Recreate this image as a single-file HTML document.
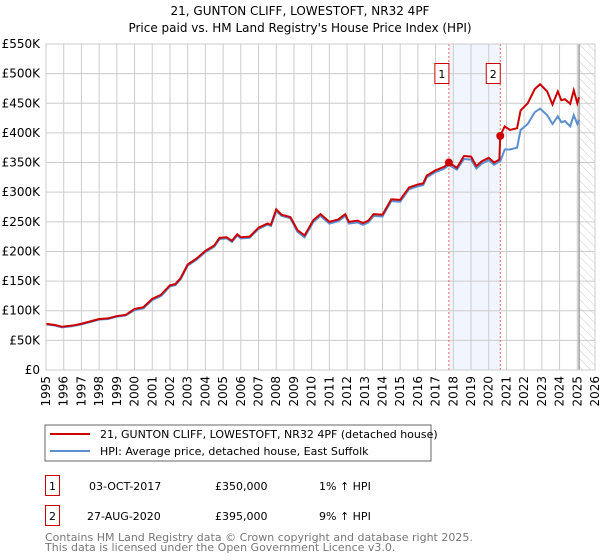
<!DOCTYPE html>
<html><head><meta charset="utf-8"><style>
body{margin:0;background:#fff;width:600px;height:560px;overflow:hidden}
svg{display:block;font-family:"DejaVu Sans","Liberation Sans",sans-serif}
</style></head><body>
<svg id="c" width="600" height="560">
<defs><pattern id="hatch" width="6" height="6" patternUnits="userSpaceOnUse" patternTransform="rotate(-45)"><line x1="0" y1="0" x2="0" y2="6" stroke="#ccc" stroke-width="1"/></pattern></defs>
<text x="300" y="15" text-anchor="middle" font-size="12">21, GUNTON CLIFF, LOWESTOFT, NR32 4PF</text>
<text x="300" y="32" text-anchor="middle" font-size="12">Price paid vs. HM Land Registry's House Price Index (HPI)</text>
<g id="grid"></g><g id="marks"></g><g id="axes"></g>
<rect x="45" y="425" width="386" height="36" fill="#fff" stroke="#666"/>
<line x1="50" y1="434" x2="90" y2="434" stroke="#cc0000" stroke-width="2"/>
<text x="100" y="438" font-size="11">21, GUNTON CLIFF, LOWESTOFT, NR32 4PF (detached house)</text>
<line x1="50" y1="451" x2="90" y2="451" stroke="#5b8fd0" stroke-width="2"/>
<text x="100" y="455" font-size="11">HPI: Average price, detached house, East Suffolk</text>
<g font-size="11">
<rect x="45.5" y="475.5" width="14" height="20" fill="#fff" stroke="#cc0000"/>
<text x="52.5" y="490" text-anchor="middle">1</text>
<text x="89" y="490">03-OCT-2017</text><text x="215" y="490">£350,000</text><text x="319" y="490">1% ↑ HPI</text>
<rect x="45.5" y="505.5" width="14" height="20" fill="#fff" stroke="#cc0000"/>
<text x="52.5" y="520" text-anchor="middle">2</text>
<text x="87" y="520">27-AUG-2020</text><text x="215" y="520">£395,000</text><text x="319" y="520">9% ↑ HPI</text>
</g>
<text x="45" y="541" font-size="11" fill="#777">Contains HM Land Registry data © Crown copyright and database right 2025.</text>
<text x="45" y="551" font-size="11" fill="#777">This data is licensed under the Open Government Licence v3.0.</text>
</svg>
<script>
const years=[1995,1996,1997,1998,1999,2000,2001,2002,2003,2004,2005,2006,2007,2008,2009,2010,2011,2012,2013,2014,2015,2016,2017,2018,2019,2020,2021,2022,2023,2024,2025,2026];
const yTicks=[0,50,100,150,200,250,300,350,400,450,500,550];
const propT=[1995,1995.5,1995.9,1996.5,1997,1997.5,1998,1998.5,1999,1999.5,2000,2000.5,2001,2001.5,2002,2002.3,2002.6,2003,2003.5,2004,2004.5,2004.8,2005.2,2005.5,2005.8,2006,2006.5,2007,2007.5,2007.7,2008,2008.3,2008.8,2009.2,2009.6,2010.1,2010.5,2011,2011.5,2011.9,2012.1,2012.6,2012.9,2013.2,2013.5,2014,2014.5,2015,2015.5,2016,2016.3,2016.5,2017,2017.5,2017.75,2018.2,2018.6,2019,2019.3,2019.6,2020,2020.3,2020.6,2020.65,2020.9,2021.2,2021.6,2021.8,2022.2,2022.6,2022.9,2023.3,2023.6,2023.9,2024.1,2024.3,2024.6,2024.8,2025,2025.1];
const propV=[78,76,73,75,78,82,86,87,91,93,103,106,120,127,143,145,155,178,188,201,210,223,224,218,229,224,225,240,247,245,271,262,258,236,227,253,263,250,254,263,250,252,248,252,263,262,288,287,308,313,315,328,337,343,350,341,361,360,344,352,358,350,355,395,411,405,408,438,450,474,482,470,448,470,455,457,449,472,450,460];
const hpiT=propT;
const hpiV=[77,75,72,74,77,81,85,86,90,92,101,104,118,125,141,143,153,176,186,199,208,221,222,216,227,222,223,238,245,243,268,260,256,233,224,250,260,247,251,260,247,249,245,249,260,259,285,284,305,310,312,325,334,340,346,338,356,355,340,348,354,346,352,352,372,372,375,405,415,435,441,430,415,428,418,420,411,430,415,422];
const sales=[[2017.75,350],[2020.65,395]];
const NS='http://www.w3.org/2000/svg';
const X0=46,X1=595,Y0=370,Y1=44;
const xs=t=>X0+(t-1995)/31*(X1-X0);
const ys=v=>Y0-v/550*(Y0-Y1);
function mk(tag,attrs,parent){const e=document.createElementNS(NS,tag);for(const k in attrs)e.setAttribute(k,attrs[k]);parent.appendChild(e);return e;}
const grid=document.getElementById('grid'),marks=document.getElementById('marks'),axes=document.getElementById('axes');
const band=mk('rect',{x:xs(2017.75),y:Y1,width:xs(2020.65)-xs(2017.75),height:Y0-Y1,fill:'#eef3fc',opacity:0.8},grid);


const hat=mk('rect',{x:xs(2025.1),y:Y1,width:X1-xs(2025.1),height:Y0-Y1,fill:'url(#hatch)'},grid);


years.forEach(y=>{
 const l=mk('line',{x1:xs(y),x2:xs(y),y1:Y1,y2:Y0,stroke:'#ccc'},grid);
 
 
 const t=mk('text',{x:0,y:0,'font-size':12,'text-anchor':'end',transform:`translate(${xs(y)+4},${Y0+6}) rotate(-90)`},axes);
 t.textContent=y;
 
 
});
yTicks.forEach(v=>{
 const l=mk('line',{x1:X0,x2:X1,y1:ys(v),y2:ys(v),stroke:'#ccc'},grid);
 
 
 const t=mk('text',{x:40,y:ys(v)+4,'font-size':12,'text-anchor':'end'},axes);
 t.textContent=v===0?'£0':'£'+v+'K';
 
 
});
const endL=mk('line',{x1:xs(2025.1),x2:xs(2025.1),y1:Y1,y2:Y0,stroke:'#888','stroke-width':1.2},grid);


sales.forEach((s,i)=>{
 const l=mk('line',{x1:xs(s[0]),x2:xs(s[0]),y1:Y1,y2:Y0,stroke:'#f06060','stroke-dasharray':'2,2'},grid);
 
 
 const r=mk('rect',{x:xs(s[0])-14.5+0.5,y:63.5,width:14,height:20,fill:'#fff',stroke:'#cc0000'},axes);
 
 
 const t=mk('text',{x:xs(s[0])-7,y:78,'font-size':11,'text-anchor':'middle'},axes);
 t.textContent=i+1;
 
 
});
const hp=mk('polyline',{points:hpiT.map((t,i)=>xs(t)+','+ys(hpiV[i])).join(' '),fill:'none',stroke:'#5b8fd0','stroke-width':2},marks);


const pp=mk('polyline',{points:propT.map((t,i)=>xs(t)+','+ys(propV[i])).join(' '),fill:'none',stroke:'#cc0000','stroke-width':2},marks);


sales.forEach((s,i)=>{
 const c=mk('circle',{cx:xs(s[0]),cy:ys(s[1]),r:4,fill:'#cc0000'},marks);
 
 
});
const fr=mk('rect',{x:X0,y:Y1,width:X1-X0,height:Y0-Y1,fill:'none',stroke:'#ccc'},axes);


</script>
</body></html>
